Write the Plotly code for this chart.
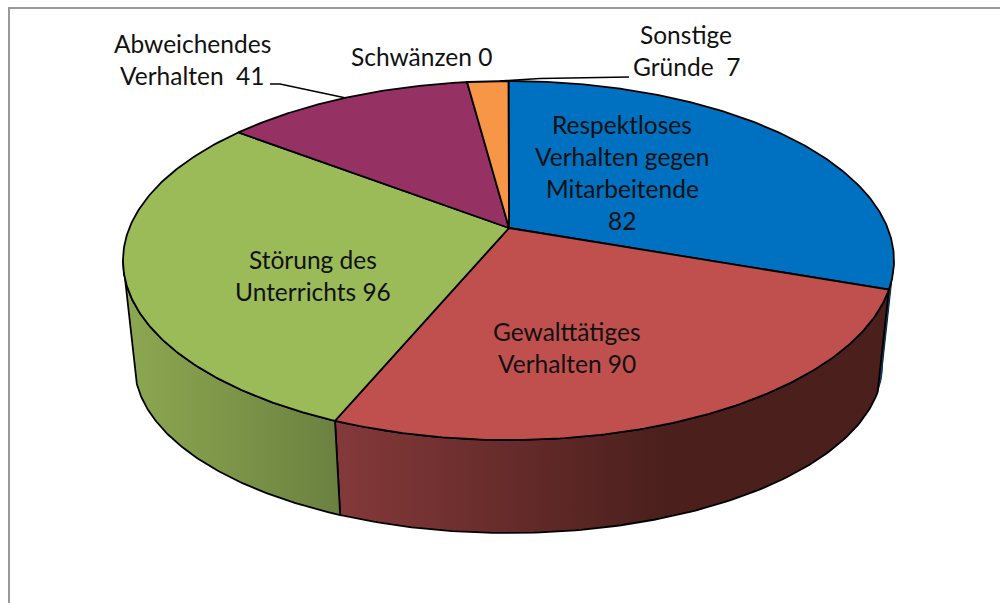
import numpy as np
import plotly.graph_objects as go

categories = ["Respektloses Verhalten gegen Mitarbeitende", "Gewalttätiges Verhalten",
              "Störung des Unterrichts", "Abweichendes Verhalten", "Schwänzen", "Sonstige Gründe"]
values = [82, 90, 96, 41, 0, 7]
top_colors = ["#0070C0", "#C0504D", "#9BBB59", "#953163", "#F79646", "#F79646"]
wall_scales = [
    [[0, "#005A9C"], [1, "#005A9C"]],
    [[0, "#85393A"], [0.6, "#4A1F1C"], [1, "#4A1F1C"]],
    [[0, "#8DA851"], [0.5, "#7C9548"], [1, "#6B8040"]],
]
wall_line = [0.8, 1.8, 1.8]
# perspective shift of each slice boundary along the rim, in degrees
rim_shift = [0, 5.9, 10.8, 10.2, 1.8, 1.8, 0]

label_lines = [
    ["Respektloses", "Verhalten gegen", "Mitarbeitende", f"{values[0]}"],
    ["Gewalttätiges", f"Verhalten {values[1]}"],
    ["Störung des", f"Unterrichts {values[2]}"],
    ["Abweichendes", f"Verhalten\u00a0\u00a0{values[3]}"],
    [f"Schwänzen {values[4]}"],
    ["Sonstige", f"Gründe\u00a0\u00a0{values[5]}"],
]
label_x = [622, 567, 313, 192, 421, 686]
label_y = [124, 331, 259, 43, 56, 34]
LINE_GAP = 32.3
FONT = dict(family="Lato, 'Open Sans', sans-serif", size=24.5, color="#111111")

APEX = (509, 228)
TOP = dict(cx=508.5, cy=260.5, a=385.5, b=179.5)
BOTTOM = dict(cx=508.5, cy=365, a=374, b=168)


def rim(e, deg):
    r = np.radians(deg)
    return e["cx"] + e["a"] * np.sin(r), e["cy"] - e["b"] * np.cos(r)


total = sum(values)
bounds = np.concatenate([[0], np.cumsum(values) / total * 360]) + np.array(rim_shift)

fig = go.Figure()

# side walls (visible for the front half only)
for i in range(3):
    lo, hi = max(bounds[i], 90), min(bounds[i + 1], 270)
    t = np.linspace(lo, hi, 120)
    xt, yt = rim(TOP, t)
    xb, yb = rim(BOTTOM, t)
    fig.add_trace(go.Scatter(
        x=np.concatenate([xt, xb[::-1], xt[:1]]), y=np.concatenate([yt, yb[::-1], yt[:1]]),
        mode="lines", fill="toself", name=categories[i],
        fillgradient=dict(type="horizontal", colorscale=wall_scales[i]),
        line=dict(color="black", width=wall_line[i]), hoverinfo="name", showlegend=False))

# top face
for i in range(len(values)):
    if values[i] == 0:
        continue
    t = np.linspace(bounds[i], bounds[i + 1], 160)
    xt, yt = rim(TOP, t)
    fig.add_trace(go.Scatter(
        x=np.concatenate([[APEX[0]], xt, [APEX[0]]]), y=np.concatenate([[APEX[1]], yt, [APEX[1]]]),
        mode="lines", fill="toself", fillcolor=top_colors[i], name=categories[i],
        line=dict(color="black", width=1.8), hoverinfo="name", showlegend=False))

# leader lines
for lx, ly in [([270, 280, 346], [84, 84, 98]), ([629, 540, 500], [77, 78.5, 81])]:
    fig.add_trace(go.Scatter(x=lx, y=ly, mode="lines", line=dict(color="black", width=1.5),
                             hoverinfo="skip", showlegend=False))

for lines, x0, y0 in zip(label_lines, label_x, label_y):
    for k, txt in enumerate(lines):
        fig.add_annotation(x=x0, y=y0 + k * LINE_GAP, text=txt, showarrow=False,
                           xanchor="center", yanchor="middle", font=FONT)

fig.update_layout(
    width=1000, height=603, margin=dict(l=0, r=0, t=0, b=0),
    paper_bgcolor="white", plot_bgcolor="white", showlegend=False,
    xaxis=dict(range=[0, 1000], visible=False, fixedrange=True),
    yaxis=dict(range=[603, 0], visible=False, fixedrange=True),
    shapes=[dict(type="rect", x0=9, y0=8, x1=1010, y1=620, line=dict(color="#999999", width=2),
                 layer="below")],
)
fig.write_html("out.html", config={"displayModeBar": False},
               post_script="document.body.style.margin='0';document.body.style.overflow='hidden';")
